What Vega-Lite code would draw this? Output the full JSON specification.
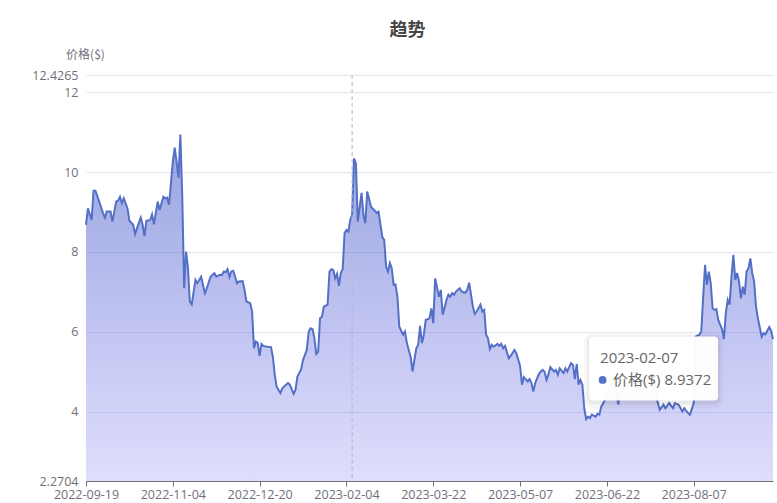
{
  "$schema": "https://vega.github.io/schema/vega-lite/v6.json",
  "width": 687,
  "height": 406,
  "autosize": {"type": "none"},
  "padding": {"left": 86, "top": 75, "right": 4, "bottom": 22},
  "background": "#ffffff",
  "title": {"text": "趋势", "fontSize": 18, "fontWeight": "bold", "color": "#464646", "anchor": "middle", "dx": -22, "baseline": "middle", "offset": -1},
  "datasets": {
    "price": [
      {"date": "2022-09-19", "value": 8.68}, {"date": "2022-09-20", "value": 9.09}, {"date": "2022-09-22", "value": 8.80},
      {"date": "2022-09-23", "value": 9.53}, {"date": "2022-09-24", "value": 9.53}, {"date": "2022-09-26", "value": 9.26},
      {"date": "2022-09-28", "value": 8.97}, {"date": "2022-09-29", "value": 8.86}, {"date": "2022-09-30", "value": 9.01},
      {"date": "2022-10-02", "value": 9.01}, {"date": "2022-10-03", "value": 8.76}, {"date": "2022-10-05", "value": 9.26},
      {"date": "2022-10-06", "value": 9.28}, {"date": "2022-10-07", "value": 9.38}, {"date": "2022-10-08", "value": 9.22},
      {"date": "2022-10-09", "value": 9.34}, {"date": "2022-10-11", "value": 9.09}, {"date": "2022-10-12", "value": 8.78},
      {"date": "2022-10-14", "value": 8.68}, {"date": "2022-10-15", "value": 8.45}, {"date": "2022-10-16", "value": 8.59},
      {"date": "2022-10-18", "value": 8.86}, {"date": "2022-10-19", "value": 8.68}, {"date": "2022-10-20", "value": 8.40},
      {"date": "2022-10-21", "value": 8.78}, {"date": "2022-10-23", "value": 8.80}, {"date": "2022-10-24", "value": 8.94},
      {"date": "2022-10-25", "value": 8.69}, {"date": "2022-10-27", "value": 9.26}, {"date": "2022-10-28", "value": 9.05},
      {"date": "2022-10-30", "value": 9.38}, {"date": "2022-10-31", "value": 9.34}, {"date": "2022-11-01", "value": 9.36},
      {"date": "2022-11-02", "value": 9.18}, {"date": "2022-11-04", "value": 10.26}, {"date": "2022-11-05", "value": 10.61},
      {"date": "2022-11-06", "value": 10.26}, {"date": "2022-11-07", "value": 9.86}, {"date": "2022-11-08", "value": 10.94},
      {"date": "2022-11-09", "value": 9.40}, {"date": "2022-11-10", "value": 7.09}, {"date": "2022-11-11", "value": 8.01},
      {"date": "2022-11-12", "value": 7.63}, {"date": "2022-11-13", "value": 6.76}, {"date": "2022-11-14", "value": 6.69},
      {"date": "2022-11-16", "value": 7.30}, {"date": "2022-11-17", "value": 7.22}, {"date": "2022-11-19", "value": 7.38},
      {"date": "2022-11-21", "value": 6.97}, {"date": "2022-11-22", "value": 7.09}, {"date": "2022-11-24", "value": 7.38},
      {"date": "2022-11-26", "value": 7.47}, {"date": "2022-11-27", "value": 7.38}, {"date": "2022-11-29", "value": 7.43},
      {"date": "2022-11-30", "value": 7.42}, {"date": "2022-12-01", "value": 7.51}, {"date": "2022-12-02", "value": 7.49},
      {"date": "2022-12-03", "value": 7.57}, {"date": "2022-12-04", "value": 7.37}, {"date": "2022-12-05", "value": 7.51},
      {"date": "2022-12-06", "value": 7.53}, {"date": "2022-12-07", "value": 7.38}, {"date": "2022-12-08", "value": 7.22},
      {"date": "2022-12-09", "value": 7.26}, {"date": "2022-12-11", "value": 7.27}, {"date": "2022-12-12", "value": 7.05},
      {"date": "2022-12-13", "value": 6.76}, {"date": "2022-12-15", "value": 6.72}, {"date": "2022-12-16", "value": 6.51},
      {"date": "2022-12-17", "value": 5.59}, {"date": "2022-12-18", "value": 5.76}, {"date": "2022-12-19", "value": 5.72},
      {"date": "2022-12-20", "value": 5.40}, {"date": "2022-12-21", "value": 5.70}, {"date": "2022-12-22", "value": 5.65},
      {"date": "2022-12-24", "value": 5.63}, {"date": "2022-12-26", "value": 5.62}, {"date": "2022-12-27", "value": 5.38},
      {"date": "2022-12-28", "value": 4.93}, {"date": "2022-12-29", "value": 4.63}, {"date": "2022-12-31", "value": 4.47},
      {"date": "2023-01-01", "value": 4.59}, {"date": "2023-01-03", "value": 4.68}, {"date": "2023-01-04", "value": 4.72},
      {"date": "2023-01-05", "value": 4.68}, {"date": "2023-01-07", "value": 4.45}, {"date": "2023-01-08", "value": 4.55},
      {"date": "2023-01-09", "value": 4.88}, {"date": "2023-01-11", "value": 5.07}, {"date": "2023-01-12", "value": 5.30},
      {"date": "2023-01-14", "value": 5.55}, {"date": "2023-01-15", "value": 6.01}, {"date": "2023-01-16", "value": 6.09},
      {"date": "2023-01-17", "value": 6.07}, {"date": "2023-01-18", "value": 5.85}, {"date": "2023-01-19", "value": 5.45},
      {"date": "2023-01-20", "value": 5.50}, {"date": "2023-01-21", "value": 6.34}, {"date": "2023-01-22", "value": 6.38},
      {"date": "2023-01-23", "value": 6.63}, {"date": "2023-01-25", "value": 6.68}, {"date": "2023-01-26", "value": 7.51},
      {"date": "2023-01-27", "value": 7.57}, {"date": "2023-01-28", "value": 7.55}, {"date": "2023-01-29", "value": 7.34},
      {"date": "2023-01-30", "value": 7.45}, {"date": "2023-01-31", "value": 7.15}, {"date": "2023-02-01", "value": 7.47},
      {"date": "2023-02-02", "value": 7.57}, {"date": "2023-02-03", "value": 8.47}, {"date": "2023-02-04", "value": 8.55},
      {"date": "2023-02-05", "value": 8.51}, {"date": "2023-02-06", "value": 8.80}, {"date": "2023-02-07", "value": 8.9372},
      {"date": "2023-02-08", "value": 10.34}, {"date": "2023-02-09", "value": 10.22}, {"date": "2023-02-10", "value": 8.76},
      {"date": "2023-02-12", "value": 9.48}, {"date": "2023-02-13", "value": 8.93}, {"date": "2023-02-14", "value": 8.72},
      {"date": "2023-02-15", "value": 9.51}, {"date": "2023-02-17", "value": 9.13}, {"date": "2023-02-19", "value": 9.03},
      {"date": "2023-02-20", "value": 8.98}, {"date": "2023-02-21", "value": 9.01}, {"date": "2023-02-23", "value": 8.37},
      {"date": "2023-02-24", "value": 8.30}, {"date": "2023-02-25", "value": 7.63}, {"date": "2023-02-26", "value": 7.51},
      {"date": "2023-02-27", "value": 7.72}, {"date": "2023-02-28", "value": 7.59}, {"date": "2023-03-01", "value": 7.18},
      {"date": "2023-03-02", "value": 7.19}, {"date": "2023-03-03", "value": 6.88}, {"date": "2023-03-04", "value": 6.13},
      {"date": "2023-03-06", "value": 5.93}, {"date": "2023-03-07", "value": 6.01}, {"date": "2023-03-08", "value": 5.72},
      {"date": "2023-03-10", "value": 5.38}, {"date": "2023-03-11", "value": 5.01}, {"date": "2023-03-13", "value": 5.59},
      {"date": "2023-03-14", "value": 5.68}, {"date": "2023-03-15", "value": 6.15}, {"date": "2023-03-16", "value": 5.72},
      {"date": "2023-03-17", "value": 5.93}, {"date": "2023-03-18", "value": 6.30}, {"date": "2023-03-19", "value": 6.32},
      {"date": "2023-03-20", "value": 6.34}, {"date": "2023-03-21", "value": 6.59}, {"date": "2023-03-22", "value": 6.22},
      {"date": "2023-03-23", "value": 7.34}, {"date": "2023-03-25", "value": 6.88}, {"date": "2023-03-26", "value": 7.05},
      {"date": "2023-03-27", "value": 6.43}, {"date": "2023-03-29", "value": 6.80}, {"date": "2023-03-30", "value": 6.93},
      {"date": "2023-03-31", "value": 6.88}, {"date": "2023-04-01", "value": 6.97}, {"date": "2023-04-02", "value": 6.93},
      {"date": "2023-04-03", "value": 7.01}, {"date": "2023-04-05", "value": 7.09}, {"date": "2023-04-06", "value": 7.01},
      {"date": "2023-04-08", "value": 6.98}, {"date": "2023-04-09", "value": 7.05}, {"date": "2023-04-10", "value": 7.23},
      {"date": "2023-04-12", "value": 6.63}, {"date": "2023-04-13", "value": 6.45}, {"date": "2023-04-14", "value": 6.51},
      {"date": "2023-04-16", "value": 6.68}, {"date": "2023-04-17", "value": 6.51}, {"date": "2023-04-18", "value": 6.55},
      {"date": "2023-04-19", "value": 5.93}, {"date": "2023-04-20", "value": 5.84}, {"date": "2023-04-21", "value": 5.57},
      {"date": "2023-04-22", "value": 5.68}, {"date": "2023-04-23", "value": 5.63}, {"date": "2023-04-25", "value": 5.70},
      {"date": "2023-04-26", "value": 5.65}, {"date": "2023-04-27", "value": 5.70}, {"date": "2023-04-28", "value": 5.59},
      {"date": "2023-04-29", "value": 5.65}, {"date": "2023-05-01", "value": 5.34}, {"date": "2023-05-03", "value": 5.47},
      {"date": "2023-05-04", "value": 5.55}, {"date": "2023-05-05", "value": 5.47}, {"date": "2023-05-07", "value": 5.15},
      {"date": "2023-05-08", "value": 4.68}, {"date": "2023-05-09", "value": 4.87}, {"date": "2023-05-11", "value": 4.76},
      {"date": "2023-05-12", "value": 4.82}, {"date": "2023-05-13", "value": 4.72}, {"date": "2023-05-14", "value": 4.51},
      {"date": "2023-05-15", "value": 4.72}, {"date": "2023-05-17", "value": 4.95}, {"date": "2023-05-18", "value": 5.01},
      {"date": "2023-05-19", "value": 5.05}, {"date": "2023-05-20", "value": 5.00}, {"date": "2023-05-21", "value": 4.80},
      {"date": "2023-05-22", "value": 4.93}, {"date": "2023-05-23", "value": 5.12}, {"date": "2023-05-25", "value": 5.01},
      {"date": "2023-05-26", "value": 5.05}, {"date": "2023-05-27", "value": 4.93}, {"date": "2023-05-28", "value": 5.09},
      {"date": "2023-05-30", "value": 4.97}, {"date": "2023-05-31", "value": 5.09}, {"date": "2023-06-01", "value": 5.01},
      {"date": "2023-06-03", "value": 5.22}, {"date": "2023-06-04", "value": 5.18}, {"date": "2023-06-05", "value": 4.82},
      {"date": "2023-06-06", "value": 5.20}, {"date": "2023-06-07", "value": 4.68}, {"date": "2023-06-08", "value": 4.80},
      {"date": "2023-06-09", "value": 4.68}, {"date": "2023-06-10", "value": 4.09}, {"date": "2023-06-11", "value": 3.82},
      {"date": "2023-06-12", "value": 3.88}, {"date": "2023-06-13", "value": 3.84}, {"date": "2023-06-14", "value": 3.93},
      {"date": "2023-06-16", "value": 3.88}, {"date": "2023-06-17", "value": 3.95}, {"date": "2023-06-18", "value": 3.93},
      {"date": "2023-06-19", "value": 4.13}, {"date": "2023-06-21", "value": 4.30}, {"date": "2023-06-23", "value": 4.55},
      {"date": "2023-06-25", "value": 4.68}, {"date": "2023-06-27", "value": 4.50}, {"date": "2023-06-28", "value": 4.18},
      {"date": "2023-06-29", "value": 4.50}, {"date": "2023-07-02", "value": 4.68}, {"date": "2023-07-04", "value": 4.60},
      {"date": "2023-07-06", "value": 4.80}, {"date": "2023-07-08", "value": 4.70}, {"date": "2023-07-10", "value": 4.63},
      {"date": "2023-07-12", "value": 4.55}, {"date": "2023-07-14", "value": 4.65}, {"date": "2023-07-17", "value": 4.72},
      {"date": "2023-07-19", "value": 4.22}, {"date": "2023-07-20", "value": 4.05}, {"date": "2023-07-22", "value": 4.18},
      {"date": "2023-07-23", "value": 4.09}, {"date": "2023-07-25", "value": 4.22}, {"date": "2023-07-27", "value": 4.09},
      {"date": "2023-07-28", "value": 4.22}, {"date": "2023-07-30", "value": 4.18}, {"date": "2023-08-01", "value": 4.01},
      {"date": "2023-08-02", "value": 4.09}, {"date": "2023-08-04", "value": 3.97}, {"date": "2023-08-05", "value": 3.93},
      {"date": "2023-08-07", "value": 4.22}, {"date": "2023-08-08", "value": 5.88}, {"date": "2023-08-10", "value": 5.93},
      {"date": "2023-08-11", "value": 6.01}, {"date": "2023-08-12", "value": 6.88}, {"date": "2023-08-13", "value": 7.68},
      {"date": "2023-08-14", "value": 7.18}, {"date": "2023-08-15", "value": 7.51}, {"date": "2023-08-16", "value": 7.22},
      {"date": "2023-08-17", "value": 6.59}, {"date": "2023-08-18", "value": 6.55}, {"date": "2023-08-19", "value": 6.57},
      {"date": "2023-08-20", "value": 6.30}, {"date": "2023-08-21", "value": 6.18}, {"date": "2023-08-22", "value": 6.07},
      {"date": "2023-08-23", "value": 5.82}, {"date": "2023-08-24", "value": 6.47}, {"date": "2023-08-25", "value": 6.80},
      {"date": "2023-08-26", "value": 6.68}, {"date": "2023-08-27", "value": 7.38}, {"date": "2023-08-28", "value": 7.93},
      {"date": "2023-08-29", "value": 7.30}, {"date": "2023-08-30", "value": 7.47}, {"date": "2023-08-31", "value": 7.26},
      {"date": "2023-09-01", "value": 6.84}, {"date": "2023-09-02", "value": 7.13}, {"date": "2023-09-03", "value": 6.93},
      {"date": "2023-09-04", "value": 7.51}, {"date": "2023-09-05", "value": 7.59}, {"date": "2023-09-06", "value": 7.84},
      {"date": "2023-09-07", "value": 7.47}, {"date": "2023-09-08", "value": 7.26}, {"date": "2023-09-09", "value": 6.63},
      {"date": "2023-09-10", "value": 6.34}, {"date": "2023-09-12", "value": 5.88}, {"date": "2023-09-13", "value": 5.97},
      {"date": "2023-09-14", "value": 5.94}, {"date": "2023-09-16", "value": 6.12}, {"date": "2023-09-17", "value": 6.03},
      {"date": "2023-09-18", "value": 5.82}
    ],
    "tip": [
      {"date": "2023-02-07", "value": 8.9372, "day": "2023-02-07", "label": "价格($) 8.9372"}
    ]
  },
  "encoding": {
    "x": {
      "field": "date",
      "type": "temporal",
      "scale": {
        "type": "utc",
        "domain": [
          {"year": 2022, "month": 9, "date": 19, "utc": true},
          {"year": 2023, "month": 9, "date": 18, "utc": true}
        ]
      },
      "axis": {
        "title": null,
        "grid": false,
        "values": [
          {"year": 2022, "month": 9, "date": 19, "utc": true},
          {"year": 2022, "month": 11, "date": 4, "utc": true},
          {"year": 2022, "month": 12, "date": 20, "utc": true},
          {"year": 2023, "month": 2, "date": 4, "utc": true},
          {"year": 2023, "month": 3, "date": 22, "utc": true},
          {"year": 2023, "month": 5, "date": 7, "utc": true},
          {"year": 2023, "month": 6, "date": 22, "utc": true},
          {"year": 2023, "month": 8, "date": 7, "utc": true}
        ],
        "labelExpr": "utcFormat(datum.value, '%Y-%m-%d')",
        "labelFlush": false,
        "labelOverlap": false,
        "tickSize": 5,
        "labelPadding": 2
      }
    },
    "y": {
      "field": "value",
      "type": "quantitative",
      "scale": {"domain": [2.2704, 12.4265], "nice": false, "zero": false},
      "axis": {
        "title": "价格($)",
        "titleAngle": 0,
        "titleAlign": "center",
        "titleBaseline": "middle",
        "titleX": -1,
        "titleY": -21,
        "values": [2.2704, 4, 6, 8, 10, 12, 12.4265],
        "labelExpr": "datum.value + ''",
        "grid": true,
        "domain": false,
        "ticks": false,
        "labelPadding": 8,
        "labelFlush": false,
        "labelOverlap": false
      }
    }
  },
  "layer": [
    {
      "data": {"name": "price"},
      "mark": {
        "type": "area",
        "fill": {
          "gradient": "linear",
          "x1": 0, "y1": 0, "x2": 0, "y2": 1,
          "stops": [
            {"offset": 0, "color": "rgba(84,108,200,0.62)"},
            {"offset": 1, "color": "rgba(120,115,240,0.24)"}
          ]
        }
      },
      "encoding": {"y2": {"datum": 2.2704}}
    },
    {
      "data": {"name": "price"},
      "mark": {"type": "line", "stroke": "#5470c6", "strokeWidth": 2}
    },
    {
      "data": {"name": "tip"},
      "mark": {"type": "rule", "stroke": "#b4b4c4", "strokeWidth": 1, "strokeDash": [4, 3]},
      "encoding": {"y": {"datum": 12.4265}, "y2": {"datum": 2.2704}}
    },
    {
      "data": {"name": "tip"},
      "mark": {"type": "point", "filled": true, "fill": "#000000", "fillOpacity": 0.035, "strokeWidth": 0, "size": 4, "opacity": 1,
        "shape": "M241,119H362Q371,119 371,128V185Q371,194 362,194H241Q232,194 232,185V128Q232,119 241,119Z"}
    },
    {
      "data": {"name": "tip"},
      "mark": {"type": "point", "filled": true, "fill": "#000000", "fillOpacity": 0.05, "strokeWidth": 0, "size": 4, "opacity": 1,
        "shape": "M241,121H362Q368,121 368,127V184Q368,190 362,190H241Q235,190 235,184V127Q235,121 241,121Z"}
    },
    {
      "data": {"name": "tip"},
      "mark": {"type": "point", "filled": true, "fill": "#ffffff", "fillOpacity": 0.97, "strokeWidth": 0, "size": 4, "opacity": 1,
        "shape": "M241,122H362Q366,122 366,126V182Q366,186 362,186H241Q237,186 237,182V126Q237,122 241,122Z"}
    },
    {
      "data": {"name": "tip"},
      "mark": {"type": "point", "shape": "circle", "filled": true, "fill": "#5470c6", "opacity": 1, "strokeWidth": 0, "size": 60, "xOffset": 250.5, "yOffset": 165.5}
    },
    {
      "data": {"name": "tip"},
      "mark": {"type": "text", "align": "left", "baseline": "middle", "dx": 248, "dy": 143.5, "fontSize": 15, "color": "#666666"},
      "encoding": {"text": {"field": "day", "type": "nominal"}}
    },
    {
      "data": {"name": "tip"},
      "mark": {"type": "text", "align": "left", "baseline": "middle", "dx": 261, "dy": 165.5, "fontSize": 15, "color": "#666666"},
      "encoding": {"text": {"field": "label", "type": "nominal"}}
    }
  ],
  "config": {
    "font": "Open Sans, Noto Sans CJK SC",
    "view": {"stroke": null},
    "title": {"font": "Noto Sans CJK SC"},
    "axis": {
      "labelColor": "#6E7079",
      "labelFontSize": 12.5,
      "labelFont": "Open Sans, Noto Sans CJK SC",
      "titleColor": "#6E7079",
      "titleFontSize": 12,
      "titleFontWeight": "normal",
      "titleFont": "Noto Sans CJK SC",
      "domainColor": "#6E7079",
      "tickColor": "#6E7079",
      "gridColor": "#E0E6F1"
    }
  }
}
